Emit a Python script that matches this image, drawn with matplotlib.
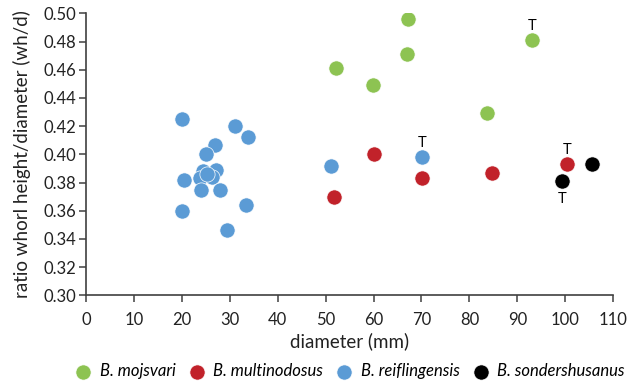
import matplotlib.pyplot as plt

# data
mojsvari_x = [52.2, 59.9, 67.1, 66.9, 83.6, 93.1]
mojsvari_y = [0.461, 0.449, 0.496, 0.471, 0.429, 0.481]

multi_x = [51.7, 60.2, 70.2, 84.8, 100.4]
multi_y = [0.370, 0.400, 0.383, 0.387, 0.393]

reif_x = [20.1, 31.2, 33.9, 27.0, 25.0, 20.4, 24.4, 27.1, 23.9, 26.3, 25.2,
          24.1, 28.0, 20.1, 33.5, 29.5, 51.2, 70.2]
reif_y = [0.425, 0.420, 0.412, 0.407, 0.400, 0.382, 0.388, 0.389, 0.383, 0.384, 0.386,
          0.375, 0.375, 0.360, 0.364, 0.346, 0.392, 0.398]

sond_x = [99.4, 105.5]
sond_y = [0.381, 0.393]

# "T" annotations: (x, y, text offset in points)
t_marks = [(93.1, 0.481, 10), (70.2, 0.398, 10), (100.4, 0.393, 10), (99.4, 0.381, -13)]

plt.rcParams['font.family'] = ['Lato', 'DejaVu Sans']

fig = plt.figure(figsize=(6.27, 3.84), dpi=100)
ax = fig.add_axes([0.137, 0.231, 0.841, 0.734])

ms = 120
ax.scatter(mojsvari_x, mojsvari_y, s=ms, color='#8dc352', edgecolors='white', linewidths=0.5,
           label='B. mojsvari', zorder=3)
ax.scatter(multi_x, multi_y, s=ms, color='#c1222a', edgecolors='white', linewidths=0.5,
           label='B. multinodosus', zorder=3)
ax.scatter(reif_x, reif_y, s=ms, color='#5b9bd5', edgecolors='white', linewidths=0.5,
           label='B. reiflingensis', zorder=3)
ax.scatter(sond_x, sond_y, s=ms, color='black', edgecolors='white', linewidths=0.5,
           label='B. sondershusanus', zorder=3)

for tx, ty, off in t_marks:
    ax.annotate('T', (tx, ty), xytext=(0, off), textcoords='offset points',
                ha='center', va='center', fontsize=10.5)

ax.set_xlim(0, 110)
ax.set_ylim(0.30, 0.50)
ax.set_xticks(range(0, 111, 10))
ax.set_yticks([0.30 + 0.02 * i for i in range(11)])
ax.set_yticklabels(['%.2f' % (0.30 + 0.02 * i) for i in range(11)])

for s in ['top', 'right']:
    ax.spines[s].set_visible(False)
for s in ['left', 'bottom']:
    ax.spines[s].set_color('#404040')
    ax.spines[s].set_linewidth(1.2)
ax.tick_params(direction='out', length=5, width=1.1, color='#404040', labelsize=12, labelcolor='#222222')
ax.tick_params(axis='x', pad=7)
ax.tick_params(axis='y', pad=2)

ax.set_xlabel('diameter (mm)', fontsize=13.5, color='#222222', labelpad=3)
ax.set_ylabel('ratio whorl height/diameter (wh/d)', fontsize=13.5, color='#222222', labelpad=9)

leg = fig.legend(loc='center', bbox_to_anchor=(0.558, 0.034), ncol=4, frameon=False,
                 handlelength=1.0, handletextpad=0.5, columnspacing=0.75,
                 prop={'style': 'italic', 'size': 12})

plt.savefig('out.png', dpi=100)
